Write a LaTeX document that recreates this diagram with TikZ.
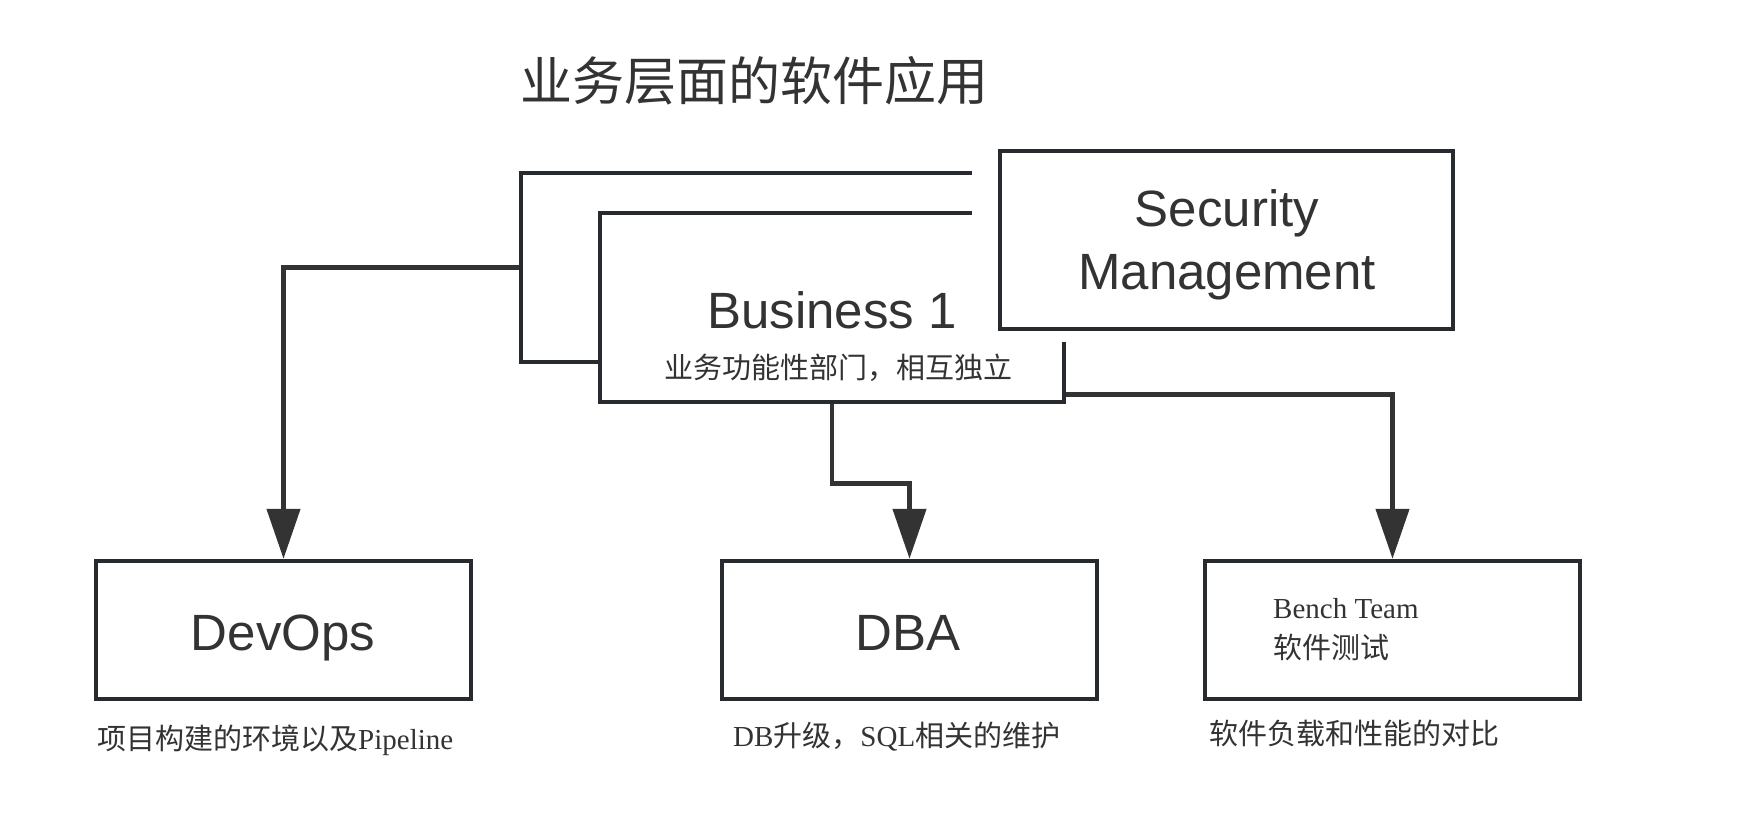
\documentclass[tikz,border=0pt]{standalone}
\usepackage{fontspec}
\setmainfont{Liberation Sans}
\newfontfamily\cjk{Noto Sans CJK SC}
\newfontfamily\lserif{Liberation Serif}
\usetikzlibrary{arrows.meta,calc}
\definecolor{boxline}{HTML}{272B30}
\definecolor{ink}{HTML}{333333}
\tikzset{
  box/.style={draw=boxline, line width=4.5pt, fill=white, rectangle, inner sep=0pt},
  conn/.style={draw=ink, line width=4.5pt, -{Triangle[length=50pt,width=33pt]}},
  bigtxt/.style={text=ink, font=\fontsize{51}{60}\selectfont, inner sep=0pt},
  cjksmall/.style={text=ink, font=\cjk\fontsize{29}{34}\selectfont, inner sep=0pt},
  sersmall/.style={text=ink, font=\lserif\fontsize{29}{34}\selectfont, inner sep=0pt},
}
\begin{document}
\begin{tikzpicture}[x=1pt,y=-1pt]
\useasboundingbox[fill=white] (0,0) rectangle (1742,823);
% title
\node[text=ink, font=\cjk\fontsize{52}{60}\selectfont, anchor=base west, inner sep=0pt] (title) at (520,100) {业务层面的软件应用};
% stacked boxes
\node[box, minimum width=489pt, minimum height=189pt] (back) at (765.5,267.5) {};
\node[box, minimum width=464pt, minimum height=189pt] (biz) at (832,307.5) {};
\fill[white] (972,140) rectangle (1466,342);
\node[box, minimum width=453pt, minimum height=178pt] (sec) at (1226.5,240) {};
\node[bigtxt, anchor=base] (secA) at (1227,226) {Security};
\node[bigtxt, anchor=base] (secB) at (1227,289) {Management};
\node[bigtxt, anchor=base] (bizA) at (832,328) {Business 1};
\node[cjksmall, anchor=base] (bizB) at (838,378) {业务功能性部门，相互独立};
% bottom boxes
\node[box, minimum width=375pt, minimum height=138pt] (devops) at (283.5,630) {};
\node[box, minimum width=375pt, minimum height=138pt] (dba) at (909.5,630) {};
\node[box, minimum width=375pt, minimum height=138pt] (bench) at (1392.5,630) {};
\node[bigtxt, anchor=base] (devA) at (283,650) {DevOps};
\node[bigtxt, anchor=base] (dbaA) at (908,650) {DBA};
\node[sersmall, anchor=base west] (benchA) at (1273,618) {Bench Team};
\node[cjksmall, anchor=base west] (benchB) at (1273,658) {软件测试};
% captions
\node[cjksmall, anchor=base west] (capA) at (97,749) {项目构建的环境以及{\lserif Pipeline}};
\node[cjksmall, anchor=base west] (capB) at (733,746) {{\lserif DB}升级，{\lserif SQL}相关的维护};
\node[cjksmall, anchor=base west] (capC) at (1209,744) {软件负载和性能的对比};
% connectors
\draw[conn] (back.west) -| (devops.north);
\draw[conn] (biz.south) -- ++(0,79) -| (dba.north);
\draw[conn] ($(biz.south east)+(0,-10)$) -| (bench.north);
\end{tikzpicture}
\end{document}
